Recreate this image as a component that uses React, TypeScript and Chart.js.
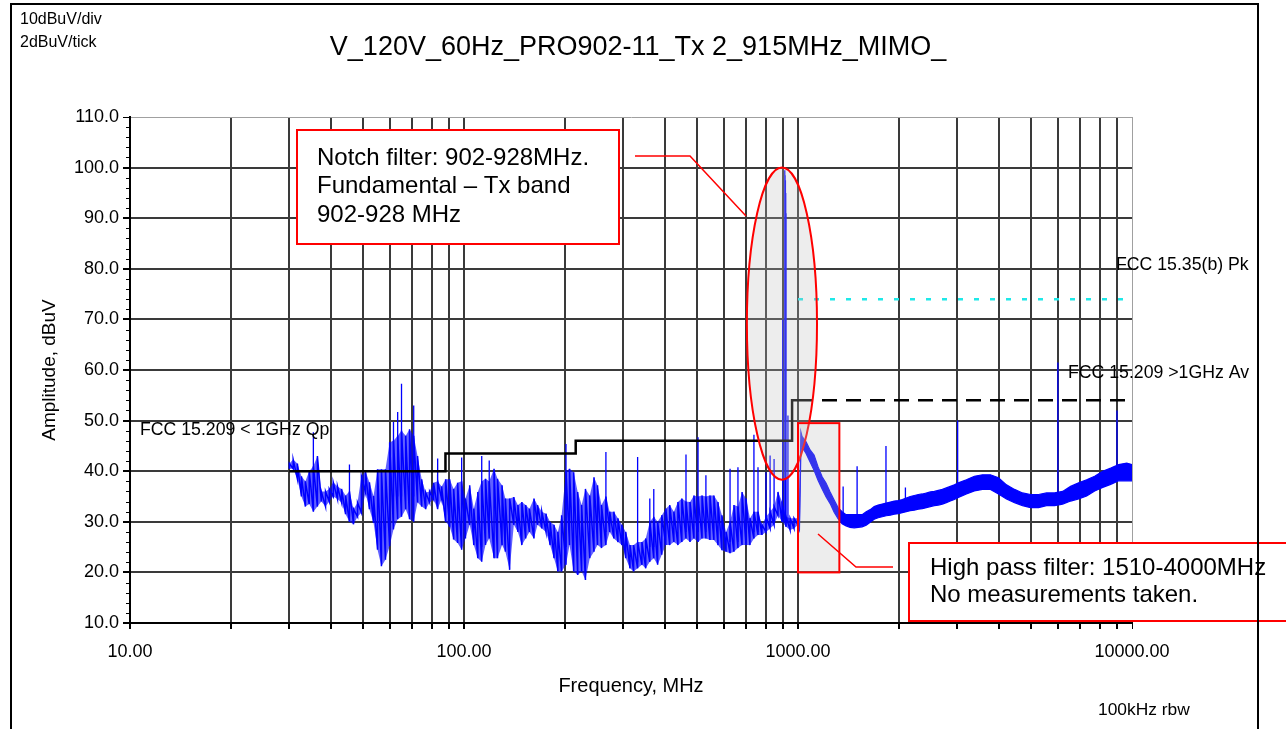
import React, { useEffect, useRef } from 'react';
import { Chart, registerables } from 'chart.js';

Chart.register(...registerables);

const FONT = '"Liberation Sans", Arial, Helvetica, sans-serif';

// ---- Measured trace, 30 MHz - 1 GHz (envelope low / high, dBuV) ----
const lowBandFreqs = [
  30, 30.8, 31.7, 32.6, 33.5, 34.4, 35.4, 36.4, 37.4, 38.5,
  39.5, 40.6, 41.8, 43, 44.2, 45.4, 46.7, 48, 49.3, 50.7,
  52.1, 53.6, 55.1, 56.6, 58.2, 59.9, 61.5, 63.3, 65, 66.9,
  68.7, 70.7, 72.6, 74.7, 76.8, 78.9, 81.1, 83.4, 85.7, 88.1,
  90.6, 93.1, 95.7, 98.4, 101, 104, 107, 110, 113, 116,
  119, 123, 126, 130, 133, 137, 141, 145, 149, 153,
  157, 162, 166, 171, 176, 181, 186, 191, 196, 202,
  207, 213, 219, 225, 231, 238, 245, 251, 258, 266,
  273, 281, 289, 297, 305, 314, 322, 331, 341, 350,
  360, 370, 380, 391, 402, 413, 425, 437, 449, 462,
  475, 488, 502, 516, 530, 545, 560, 576, 592, 609,
  626, 643, 661, 680, 699, 718, 738, 759, 780, 802,
  825, 848, 871, 896, 921, 947, 973, 1000,
];
const lowBandMin = [
  40.5, 40.5, 38.5, 35, 33, 33.5, 32, 33, 34, 33,
  34, 35, 34.5, 33.8, 31.5, 30, 29.5, 31, 31.8, 35.8,
  32.5, 29.8, 24.5, 21.2, 22.5, 25.2, 28.5, 30.5, 31, 32.5,
  30.5, 30, 33.8, 33, 32.5, 33.8, 34.4, 32.5, 34.5, 30,
  29, 26.5, 25.8, 24.5, 26.7, 29.4, 25.4, 22.8, 22.1, 25.4,
  26.7, 22.8, 22.8, 25.4, 24.1, 20.5, 29.4, 28, 25.4, 26.7,
  28, 26.7, 29.4, 28.7, 28, 25.4, 22.8, 20.2, 20.2, 21.5,
  25.4, 20.2, 19.5, 20.2, 18.5, 22.8, 24.1, 25.4, 24.8, 25.4,
  28, 26.7, 26, 25.4, 22.8, 20.8, 20.2, 20.8, 21.5, 20.8,
  22.1, 22.8, 21.5, 23.5, 25.4, 25.4, 26, 25.4, 26, 26.7,
  26, 26.7, 26, 26.7, 26.7, 26.4, 26.4, 25.4, 24.4, 24.1,
  23.8, 24.1, 24.8, 25.4, 25.4, 25.4, 26.7, 27.4, 27.4, 28,
  28.7, 29.4, 31.3, 30, 29, 28.4, 28.7, 29.4,
];
const lowBandMax = [
  41.5, 42.3, 41.5, 39, 38, 40, 41, 43, 36, 36,
  36.5, 37.8, 37, 36.5, 35.2, 36, 32.5, 33.8, 39, 40,
  37.8, 35.1, 40.4, 40.4, 40.4, 45.7, 46, 47, 48, 47,
  48.3, 47, 43, 38.4, 35.8, 36, 37.7, 38, 37, 38.4,
  38.4, 36.5, 37.7, 38, 34.6, 37.2, 32.6, 35.9, 38, 38.5,
  38, 40.5, 38.5, 37.2, 34.6, 34.6, 34.9, 33.3, 33.9, 33.3,
  32.6, 34.6, 33.3, 32, 31.6, 30, 29.4, 28, 31.3, 40,
  40.5, 39.8, 35.9, 33.3, 36.5, 35.2, 38.8, 37.2, 33.3, 35,
  32, 32, 30.7, 29.4, 28, 25.4, 25.4, 26, 26, 26.7,
  30, 31, 30, 31.3, 32.6, 33.3, 32, 33.9, 34.6, 34,
  33.9, 35.2, 35, 35.2, 35, 35.2, 35.2, 33.9, 31.3, 28,
  30, 33.3, 33, 35.9, 34.6, 30.7, 32, 32, 29.4, 31,
  32, 33, 35.9, 34, 31, 30.7, 30.7, 30.7,
];

// ---- Measured trace, 1 GHz - 10 GHz (envelope low / high, dBuV) ----
const highBandFreqs = [
  1000, 1010, 1020, 1028, 1057, 1087, 1117, 1148, 1181, 1214,
  1248, 1283, 1318, 1355, 1393, 1432, 1473, 1514, 1556, 1600,
  1645, 1691, 1738, 1787, 1837, 1889, 1942, 1996, 2052, 2109,
  2168, 2229, 2292, 2356, 2422, 2490, 2560, 2631, 2705, 2781,
  2859, 2939, 3021, 3193, 3374, 3566, 3769, 3983, 4209, 4449,
  4701, 4969, 5251, 5549, 5865, 6198, 6550, 6922, 7316, 7731,
  8170, 8635, 9125, 9643, 10000,
];
const highBandMin = [
  29, 28.3, 44, 44.8, 43.5, 41.8, 40.2, 38.2, 36.5, 34.9,
  33.6, 31.9, 30.6, 29.6, 29.2, 28.9, 28.8, 28.9, 29, 29.3,
  29.9, 30.5, 30.8, 31, 31.2, 31.3, 31.5, 31.6, 31.8, 32,
  32.2, 32.3, 32.5, 32.6, 32.8, 33, 33.2, 33.3, 33.5, 33.8,
  34.1, 34.4, 34.8, 35.5, 36.1, 36.4, 36.4, 35.5, 34.5, 33.8,
  33.2, 32.8, 32.8, 33.2, 33.2, 33.5, 34.1, 34.5, 35.1, 36.1,
  36.8, 37.4, 38.1, 38.1, 38.1,
];
const highBandMax = [
  31, 30.3, 47.8, 46.9, 45.8, 44.2, 43.2, 40.9, 38.9, 37.6,
  35.9, 34.3, 32.8, 32, 31.4, 31.4, 31.4, 31.4, 31.4, 32,
  32.4, 33, 33.3, 33.5, 33.7, 33.9, 34.1, 34.2, 34.4, 34.7,
  35, 35.2, 35.4, 35.5, 35.7, 35.9, 36, 36.2, 36.4, 36.7,
  37, 37.3, 37.7, 38.3, 39, 39.3, 39.3, 38.7, 37.3, 36.4,
  35.7, 35.4, 35.4, 35.7, 35.7, 36, 37, 37.7, 38.3, 39,
  40, 40.6, 41.3, 41.6, 41.3,
];

// ---- Narrow spikes (frequency MHz, base dBuV, top dBuV) ----
const spikeFreqs = [
  35.4, 45.4, 61.5, 63.3, 65, 70.7, 83.4, 98.4, 113, 119,
  202, 266, 331, 360, 370, 462, 502, 530, 626, 661,
  738, 759, 802, 825, 848, 900, 913, 915, 917, 919,
  921, 933, 1365, 1503, 1834, 2097, 3006, 3502, 6000, 9017,
];
const spikeBases = [
  33, 31, 35, 35, 35, 35, 34, 30, 25, 30,
  25, 28, 22, 25, 25, 28, 28, 28, 26, 26,
  28, 28, 29, 29, 30, 30, 30, 30, 30, 30,
  30, 30, 30, 30, 32, 33, 35, 37, 34, 39,
];
const spikeTops = [
  47.7, 41.3, 49.7, 51.7, 57.3, 53, 42.5, 42.7, 43, 42.1,
  45.4, 43.8, 42.8, 34.6, 36.5, 43.3, 46.7, 39.2, 40.5, 40.8,
  47.2, 40.8, 39.8, 43.1, 42.4, 70, 99.5, 98.5, 97.5, 95,
  91, 51, 37, 41, 45, 36.8, 50, 39.1, 61.5, 52,
];

// ---- Limit lines ----
const qpFreqs = [30, 88, 88, 216, 216, 960, 960, 1000];
const qpLimits = [40, 40, 43.5, 43.5, 46, 46, 54, 54];
const avFreqs = [1000, 10000];
const avLimits = [54, 54];
const pkFreqs = [1000, 10000];
const pkLimits = [74, 74];

// ---- Axes ----
const yTickValues = [10, 20, 30, 40, 50, 60, 70, 80, 90, 100, 110];
const xGridValues = [
  10, 20, 30, 40, 50, 60, 70, 80, 90,
  100, 200, 300, 400, 500, 600, 700, 800, 900,
  1000, 2000, 3000, 4000, 5000, 6000, 7000, 8000, 9000, 10000,
];
const xLabelValues = [10, 100, 1000, 10000];

const titleText = 'V_120V_60Hz_PRO902-11_Tx 2_915MHz_MIMO_';
const notchLines = ['Notch filter: 902-928MHz.', 'Fundamental \u2013 Tx band', '902-928 MHz'];
const hpLines = ['High pass filter: 1510-4000MHz', 'No measurements taken.'];

// annotation regions in data space
const notchEllipse = { fMin: 703, fMax: 1140, vMin: 38.3, vMax: 100 };
const hpRegion = { fMin: 1000, fMax: 1330, vMin: 20, vMax: 49.5 };

const pts = (xs: number[], ys: (number | null)[]) => xs.map((x, i) => ({ x, y: ys[i] }));

// sweep below 1 GHz: one vertical min/max stroke per sample
function zigzag(xs: number[], lo: number[], hi: number[]) {
  const out: { x: number; y: number }[] = [];
  xs.forEach((f, i) => {
    out.push({ x: f, y: lo[i] }, { x: f, y: hi[i] });
  });
  return out;
}

function spikePoints() {
  const out: { x: number; y: number | null }[] = [];
  spikeFreqs.forEach((f, i) => {
    out.push({ x: f, y: spikeBases[i] }, { x: f, y: spikeTops[i] }, { x: f, y: null });
  });
  return out;
}

const decorPlugin = {
  id: 'emcDecor',
  afterDraw(chart: any) {
    const ctx: CanvasRenderingContext2D = chart.ctx;
    const xs = chart.scales.x;
    const ys = chart.scales.y;
    const area = chart.chartArea;
    ctx.save();

    // minor y ticks (2 dBuV)
    ctx.strokeStyle = '#000';
    ctx.lineWidth = 1;
    for (let v = 10; v <= 110; v += 2) {
      if (v % 10 === 0) continue;
      const y = Math.round(ys.getPixelForValue(v)) + 0.5;
      ctx.beginPath();
      ctx.moveTo(area.left - 4, y);
      ctx.lineTo(area.left, y);
      ctx.stroke();
    }

    // translucent ellipse & high-pass region
    const eL = xs.getPixelForValue(notchEllipse.fMin);
    const eR = xs.getPixelForValue(notchEllipse.fMax);
    const eT = ys.getPixelForValue(notchEllipse.vMax);
    const eB = ys.getPixelForValue(notchEllipse.vMin);
    ctx.beginPath();
    ctx.ellipse((eL + eR) / 2, (eT + eB) / 2, (eR - eL) / 2, (eB - eT) / 2, 0, 0, Math.PI * 2);
    ctx.fillStyle = 'rgba(190,190,190,0.27)';
    ctx.fill();
    ctx.strokeStyle = '#ff0000';
    ctx.lineWidth = 2;
    ctx.stroke();

    const rL = xs.getPixelForValue(hpRegion.fMin);
    const rR = xs.getPixelForValue(hpRegion.fMax);
    const rT = ys.getPixelForValue(hpRegion.vMax);
    const rB = ys.getPixelForValue(hpRegion.vMin);
    ctx.fillStyle = 'rgba(190,190,190,0.27)';
    ctx.fillRect(rL, rT, rR - rL, rB - rT);
    ctx.strokeRect(rL, rT, rR - rL, rB - rT);

    // callout leader lines
    ctx.strokeStyle = '#ff0000';
    ctx.lineWidth = 1.5;
    ctx.beginPath();
    ctx.moveTo(635, 156);
    ctx.lineTo(690, 156);
    ctx.lineTo(746, 216);
    ctx.stroke();
    ctx.beginPath();
    ctx.moveTo(818, 534);
    ctx.lineTo(856, 567);
    ctx.lineTo(893, 567);
    ctx.stroke();

    // callout boxes
    ctx.lineWidth = 2;
    ctx.fillStyle = '#ffffff';
    ctx.fillRect(297, 130, 322, 114);
    ctx.strokeRect(297, 130, 322, 114);
    ctx.fillRect(909, 543, 390, 78);
    ctx.strokeRect(909, 543, 390, 78);

    ctx.fillStyle = '#000';
    ctx.textBaseline = 'middle';
    ctx.textAlign = 'left';
    ctx.font = `24px ${FONT}`;
    notchLines.forEach((t, i) => ctx.fillText(t, 317, 158 + i * 28.5));
    hpLines.forEach((t, i) => ctx.fillText(t, 930, 568 + i * 27.5));

    // limit labels
    ctx.font = `17.7px ${FONT}`;
    ctx.fillText('FCC 15.209 < 1GHz Qp', 140, 430);
    ctx.fillText('FCC 15.35(b) Pk', 1116, 265);
    ctx.fillText('FCC 15.209 >1GHz Av', 1068, 373);

    // corner texts
    ctx.font = `16px ${FONT}`;
    ctx.fillText('10dBuV/div', 20, 20);
    ctx.fillText('2dBuV/tick', 20, 43);
    ctx.font = `17.4px ${FONT}`;
    ctx.fillText('100kHz rbw', 1098, 710);

    // title
    ctx.font = `27px ${FONT}`;
    ctx.textAlign = 'center';
    ctx.fillText(titleText, 638, 48);

    // outer frame
    ctx.strokeStyle = '#000';
    ctx.lineWidth = 2;
    ctx.strokeRect(11, 4, 1247, 800);
    ctx.restore();
  },
};

export default function App() {
  const canvasRef = useRef<HTMLCanvasElement | null>(null);

  useEffect(() => {
    if (!canvasRef.current) return;
    const chart = new Chart(canvasRef.current, {
      type: 'line',
      data: {
        datasets: [
          {
            label: 'FCC 15.209 < 1GHz Qp',
            data: pts(qpFreqs, qpLimits),
            borderColor: '#000000',
            borderWidth: 2.5,
            pointRadius: 0,
            fill: false,
          },
          {
            label: 'FCC 15.209 >1GHz Av',
            data: pts(avFreqs, avLimits),
            borderColor: '#000000',
            borderWidth: 2.5,
            borderDash: [15, 9],
            pointRadius: 0,
            fill: false,
          },
          {
            label: 'FCC 15.35(b) Pk',
            data: pts(pkFreqs, pkLimits),
            borderColor: '#1ee8e8',
            borderWidth: 2.5,
            borderDash: [5, 11],
            pointRadius: 0,
            fill: false,
          },
          {
            label: 'spikes',
            data: spikePoints(),
            borderColor: '#0000ff',
            borderWidth: 1.3,
            pointRadius: 0,
            spanGaps: false,
            fill: false,
          },
          {
            label: 'sweep < 1 GHz strokes',
            data: zigzag(lowBandFreqs, lowBandMin, lowBandMax),
            borderColor: '#0000ff',
            borderWidth: 1.5,
            pointRadius: 0,
            fill: false,
          },
          {
            label: 'sweep < 1 GHz max',
            data: pts(lowBandFreqs, lowBandMax),
            borderColor: 'rgba(0,0,255,0)',
            borderWidth: 0,
            pointRadius: 0,
            fill: false,
          },
          {
            label: 'sweep < 1 GHz min',
            data: pts(lowBandFreqs, lowBandMin),
            borderColor: 'rgba(0,0,255,0)',
            borderWidth: 0,
            pointRadius: 0,
            fill: '-1',
            backgroundColor: 'rgba(0,0,255,0.62)',
          },
          {
            label: 'sweep > 1 GHz max',
            data: pts(highBandFreqs, highBandMax),
            borderColor: '#0000ff',
            borderWidth: 1.2,
            pointRadius: 0,
            fill: false,
          },
          {
            label: 'sweep > 1 GHz min',
            data: pts(highBandFreqs, highBandMin),
            borderColor: '#0000ff',
            borderWidth: 1.2,
            pointRadius: 0,
            fill: '-1',
            backgroundColor: '#0000ff',
          },
        ],
      },
      options: {
        responsive: false,
        maintainAspectRatio: false,
        animation: false,
        devicePixelRatio: 1,
        events: [],
        layout: { padding: { left: 0, right: 154, top: 117, bottom: 0 } },
        plugins: {
          legend: { display: false },
          tooltip: { enabled: false },
          title: { display: false },
        },
        elements: { line: { tension: 0 } },
        scales: {
          x: {
            type: 'logarithmic',
            min: 10,
            max: 10000,
            afterBuildTicks: (s: any) => {
              s.ticks = xGridValues.map((v) => ({ value: v }));
            },
            afterFit: (s: any) => {
              s.height = 106;
            },
            ticks: {
              autoSkip: false,
              maxRotation: 0,
              minRotation: 0,
              padding: 12,
              color: '#000',
              font: { family: FONT, size: 18 },
              callback: (v: any) => (xLabelValues.includes(Number(v)) ? Number(v).toFixed(2) : ''),
            },
            grid: {
              color: (c: any) => (c.tick && c.tick.value === 10000 ? '#a0a0a0' : '#3a3a3a'),
              lineWidth: (c: any) => (c.tick && c.tick.value === 10000 ? 1 : 2),
              tickLength: 6,
              tickColor: '#000',
            },
            border: { display: true, color: '#000', width: 2 },
            title: {
              display: true,
              text: 'Frequency, MHz',
              color: '#000',
              font: { family: FONT, size: 20 },
              padding: { top: 0, bottom: 31 },
            },
          },
          y: {
            type: 'linear',
            min: 10,
            max: 110,
            afterBuildTicks: (s: any) => {
              s.ticks = yTickValues.map((v) => ({ value: v }));
            },
            afterFit: (s: any) => {
              s.width = 130;
            },
            ticks: {
              padding: 4,
              color: '#000',
              font: { family: FONT, size: 18 },
              callback: (v: any) => Number(v).toFixed(1),
            },
            grid: {
              color: (c: any) => (c.tick && c.tick.value === 110 ? '#a0a0a0' : '#3a3a3a'),
              lineWidth: (c: any) => (c.tick && c.tick.value === 110 ? 1 : 2),
              tickLength: 7,
              tickColor: '#000',
            },
            border: { display: true, color: '#000', width: 2 },
            title: {
              display: true,
              text: 'Amplitude, dBuV',
              color: '#000',
              font: { family: FONT, size: 19 },
              padding: { top: 38, bottom: 0 },
            },
          },
        },
      },
      plugins: [decorPlugin],
    });
    return () => chart.destroy();
  }, []);

  return (
    <div style={{ position: 'absolute', left: 0, top: 0, width: 1286, height: 729, background: '#fff' }}>
      <canvas ref={canvasRef} width={1286} height={729} style={{ width: 1286, height: 729, display: 'block' }} />
    </div>
  );
}
